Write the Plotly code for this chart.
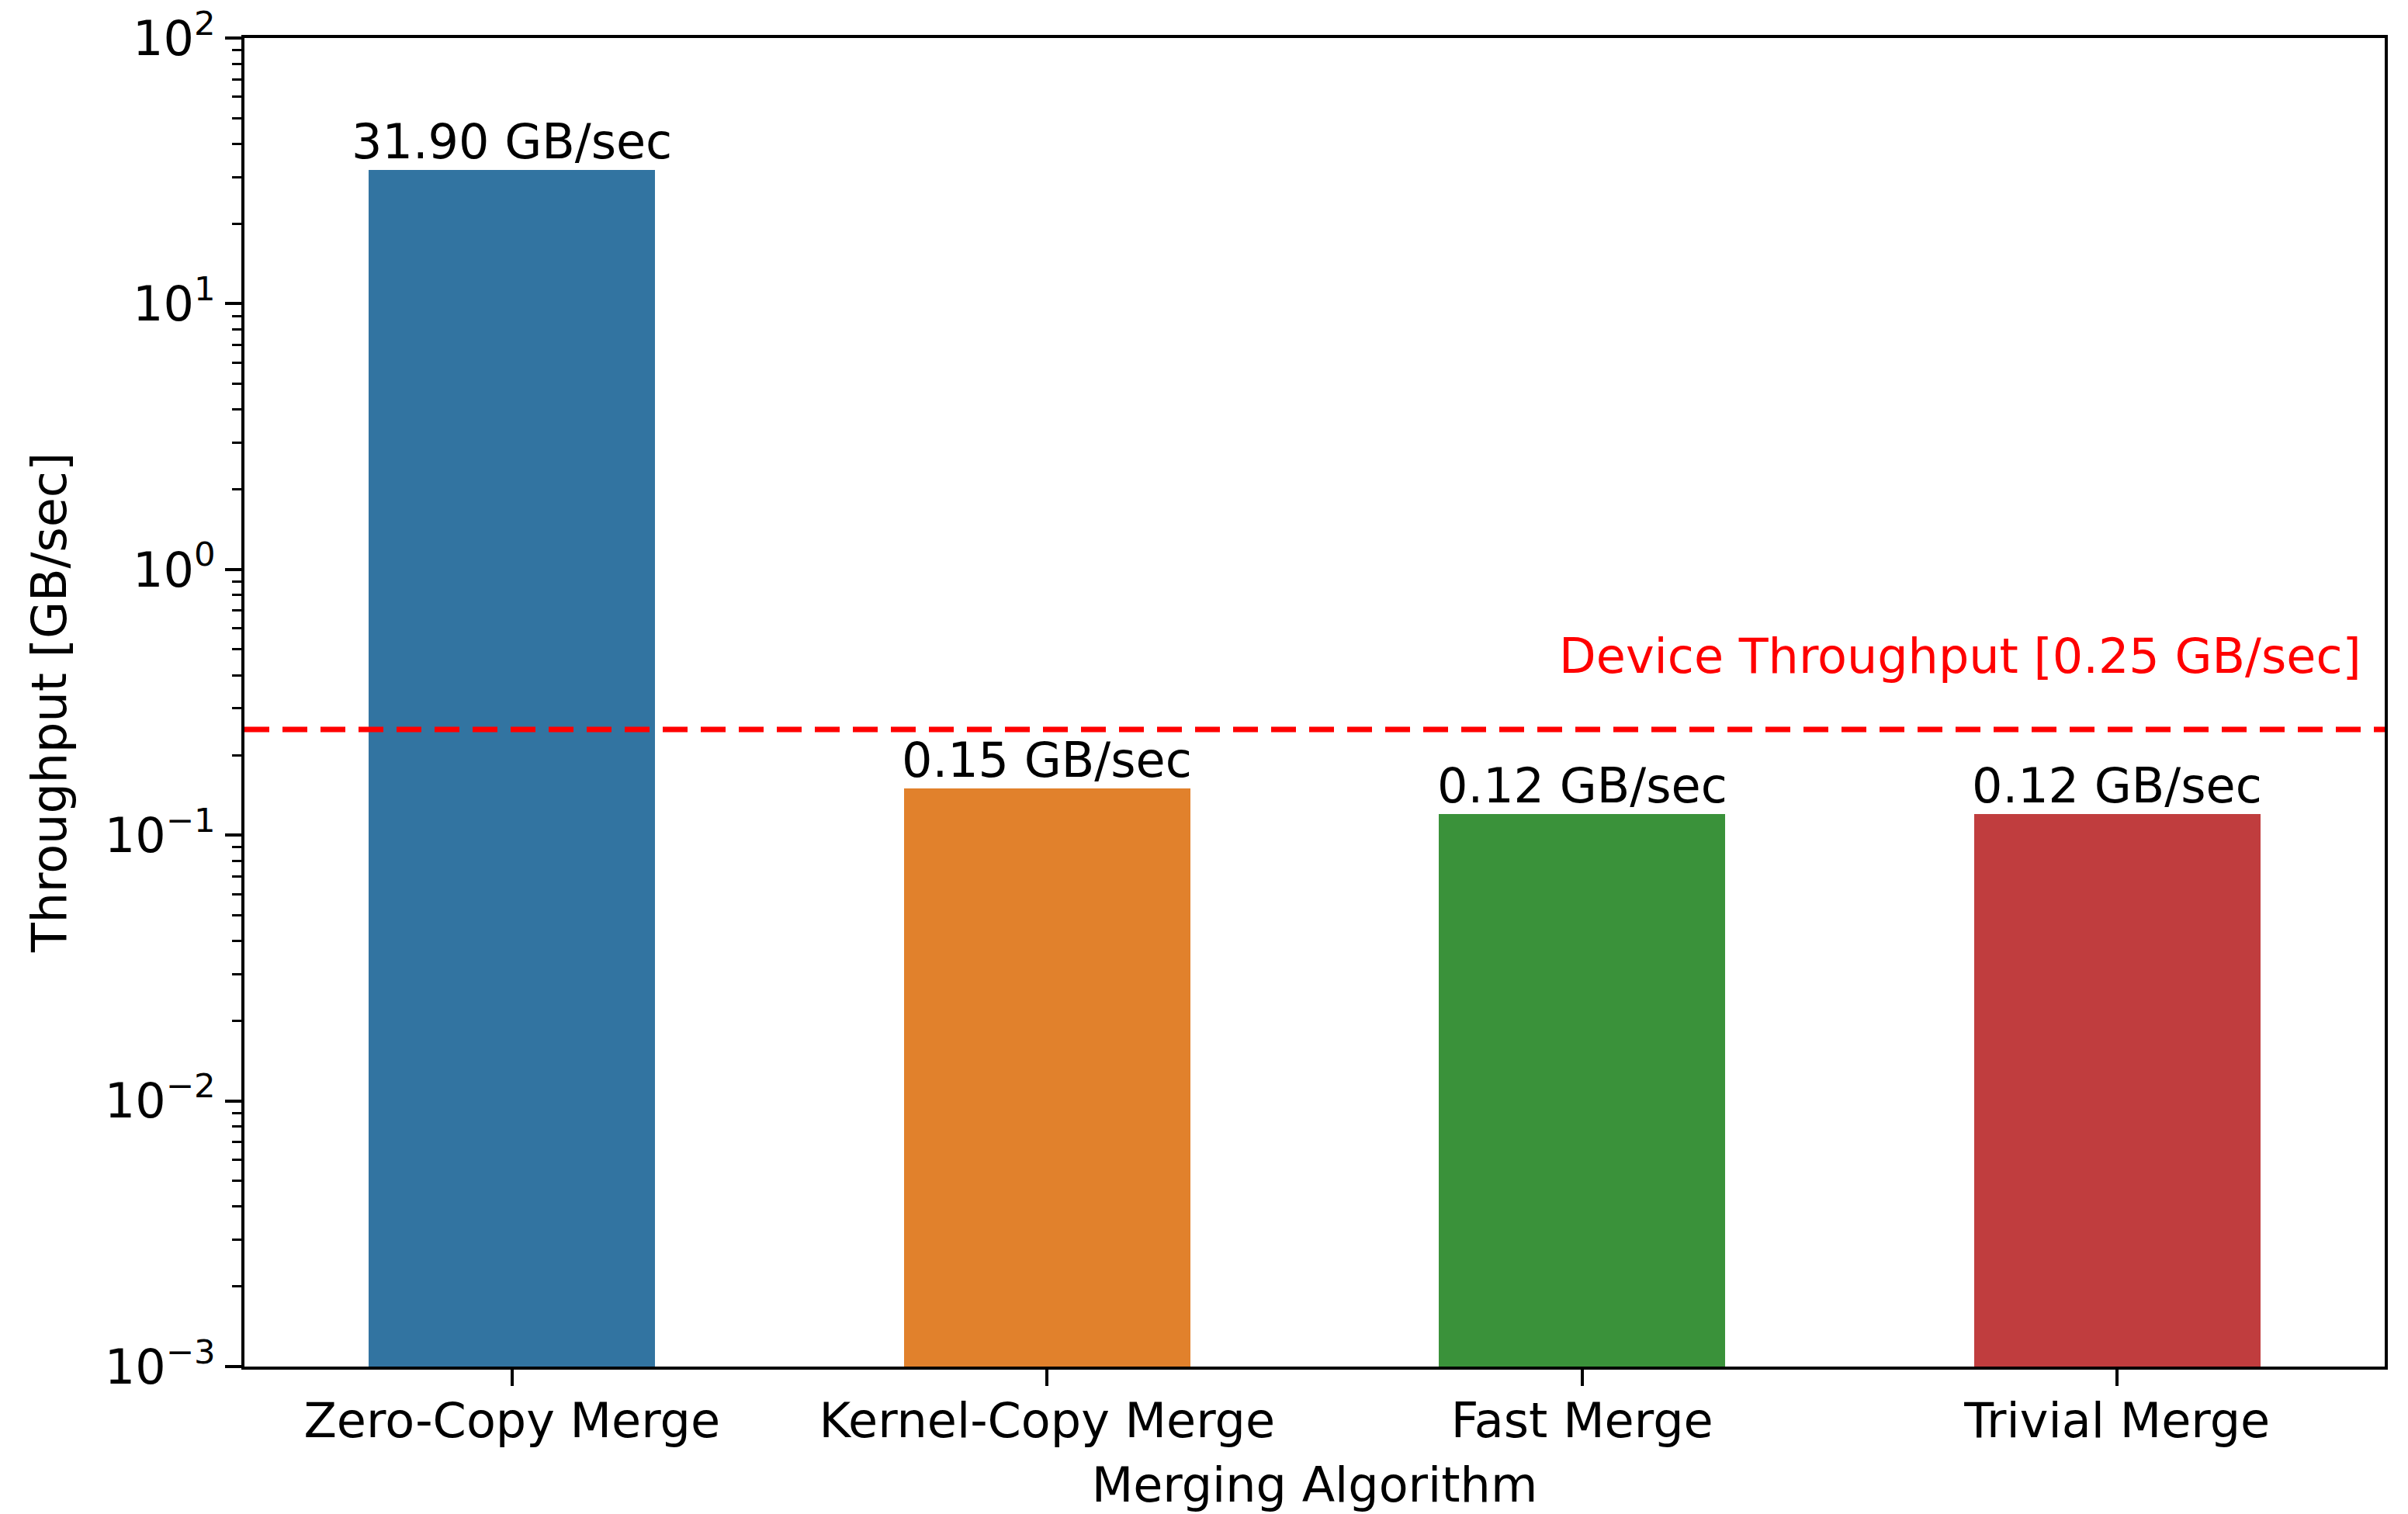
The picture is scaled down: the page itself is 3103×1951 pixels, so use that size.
import numpy as np
import plotly.graph_objects as go

categories = ["Zero-Copy Merge", "Kernel-Copy Merge", "Fast Merge", "Trivial Merge"]
throughput = [31.90, 0.15, 0.12, 0.12]
bar_labels = ["31.90 GB/sec", "0.15 GB/sec", "0.12 GB/sec", "0.12 GB/sec"]
colors = ["#3274a1", "#e1812c", "#3a923a", "#c03d3e"]
device_throughput = 0.25
device_label = "Device Throughput [0.25 GB/sec]"
y_major = [1e-3, 1e-2, 1e-1, 1e0, 1e1, 1e2]
y_major_text = ["10<sup>−3</sup>", "10<sup>−2</sup>", "10<sup>−1</sup>", "10<sup>0</sup>", "10<sup>1</sup>", "10<sup>2</sup>"]

FONT = "DejaVu Sans"
FS = 62

x_pos = list(range(len(categories)))
fig = go.Figure()
fig.add_trace(go.Bar(x=x_pos, y=throughput, width=0.535, marker=dict(color=colors, line=dict(width=0)),
                     showlegend=False))
fig.add_trace(go.Scatter(x=[-0.5, len(categories) - 0.5], y=[device_throughput] * 2, mode="lines",
                         line=dict(color="#ff0000", width=7, dash="32px,17px"), showlegend=False))

annotations = []
for xp, v, lab in zip(x_pos, throughput, bar_labels):
    annotations.append(dict(x=xp, y=np.log10(v), text=lab, showarrow=False, xanchor="center",
                            yanchor="bottom", yshift=-2, font=dict(family=FONT, size=FS, color="black")))
annotations.append(dict(x=1, xref="paper", y=np.log10(device_throughput), yref="y", text=device_label,
                        showarrow=False, xanchor="right", yanchor="bottom", xshift=-28, yshift=56,
                        font=dict(family=FONT, size=FS, color="#ff0000")))

minor_vals = [m * 10.0 ** k for k in range(-3, 2) for m in range(2, 10)]

fig.update_layout(
    width=3103, height=1951,
    margin=dict(l=315, r=30, t=49, b=190, autoexpand=False),
    plot_bgcolor="white", paper_bgcolor="white",
    font=dict(family=FONT, size=FS, color="black"),
    annotations=annotations,
    bargap=0,
)
fig.update_xaxes(range=[-0.5, len(categories) - 0.5], tickmode="array", tickvals=x_pos, ticktext=categories,
                 showline=True, linecolor="black", linewidth=4, mirror=True, ticks="outside", ticklen=21,
                 tickwidth=4, tickcolor="black", showgrid=False, zeroline=False, automargin=False,
                 ticklabelstandoff=-8,
                 title=dict(text="Merging Algorithm", font=dict(family=FONT, size=FS), standoff=26),
                 tickfont=dict(family=FONT, size=FS))
fig.update_yaxes(type="log", range=[-3, 2], tickmode="array", tickvals=y_major, ticktext=y_major_text,
                 showline=True, linecolor="black", linewidth=4, mirror=True, ticks="outside", ticklen=21,
                 tickwidth=4, tickcolor="black", showgrid=False, zeroline=False, automargin=False,
                 minor=dict(tickmode="array", tickvals=minor_vals, ticks="outside", ticklen=12, tickwidth=3,
                            tickcolor="black", showgrid=False),
                 title=dict(text="Throughput [GB/sec]", font=dict(family=FONT, size=FS), standoff=30),
                 tickfont=dict(family=FONT, size=FS))

fig.write_html("out.html")
